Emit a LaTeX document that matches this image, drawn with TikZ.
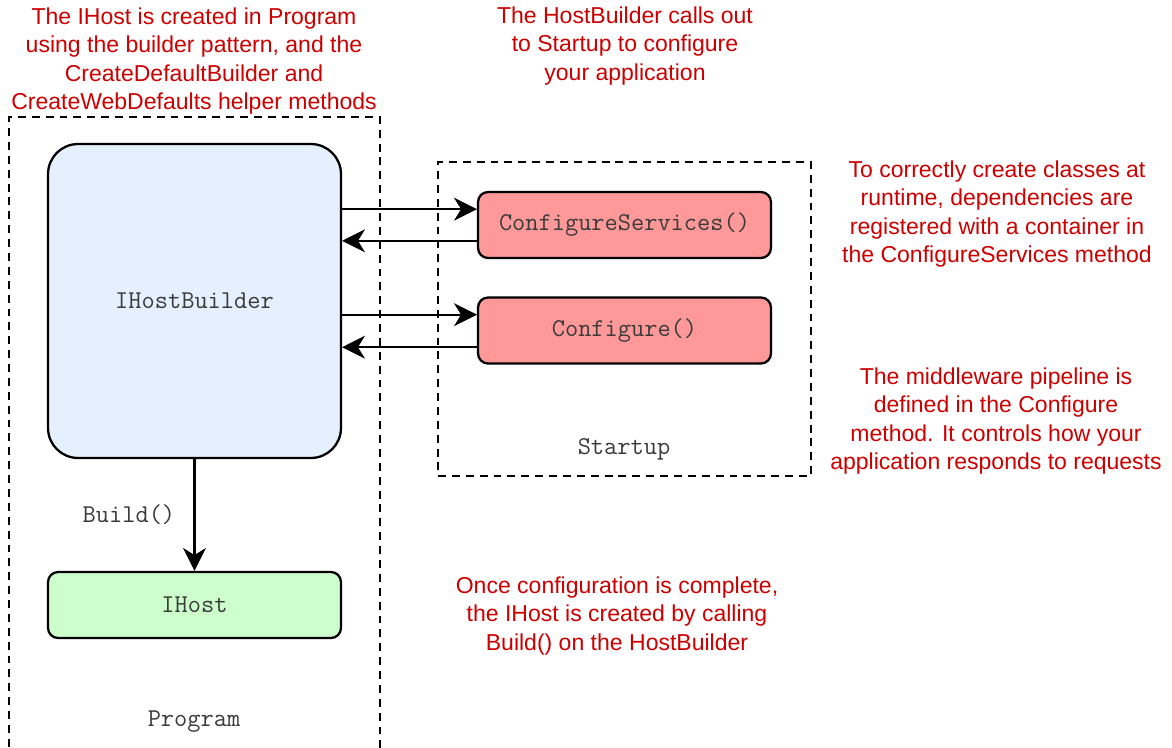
\documentclass[tikz,border=0pt]{standalone}
\usepackage{fontspec}
\setmainfont{Liberation Sans}
\usetikzlibrary{arrows.meta,positioning}
\definecolor{note}{HTML}{CC0000}
\definecolor{builderbg}{HTML}{E4F0FD}
\definecolor{hostbg}{HTML}{CCFFCC}
\definecolor{startbg}{HTML}{FF9999}
\definecolor{codefg}{HTML}{3A3A3A}

\begin{document}
\begin{tikzpicture}[
  x=0.02cm,y=-0.02cm,
  line width=1.3pt,
  flow/.style={-{Stealth[length=13pt,width=13pt,inset=4pt]},line width=1.3pt},
  frame/.style={draw,dashed,dash pattern=on 4.5pt off 3.4pt,line width=1.3pt},
  codebox/.style={draw,rounded corners=0.2cm,minimum width=5.86cm,
    minimum height=1.32cm,font=\fontsize{14.6}{16}\ttfamily,text=codefg},
  caption/.style={font=\fontsize{14.6}{16}\ttfamily,text=codefg},
  remark/.style={align=center,text=note,font=\fontsize{13.1}{16}\selectfont,
    inner sep=0pt}
]
\useasboundingbox (0,0) rectangle (1172,747);
\clip (0,0) rectangle (1172,747);

% containers
\node[frame,minimum width=7.42cm,minimum height=13.26cm] (program) at (194.5,448.5) {};
\node[frame,minimum width=7.46cm,minimum height=6.28cm] (startup) at (624.5,319) {};
\node[caption] (programlbl) at (194,722) {Program};
\node[caption] (startuplbl) at (624,449) {Startup};

% boxes
\node[codebox,fill=builderbg,rounded corners=0.6cm,minimum height=6.28cm]
  (builder) at (194.5,301) {IHostBuilder};
\node[codebox,fill=hostbg] (host) at (194.5,605) {IHost};
\node[codebox,fill=startbg] (services) at (624.5,225) {ConfigureServices()};
\node[codebox,fill=startbg] (configure) at (624.5,330.5) {Configure()};

% calls into Startup and back
\draw[flow] ([yshift=9pt]services.west -| builder.east) -- ([yshift=9pt]services.west);
\draw[flow] ([yshift=-9pt]services.west) -- ([yshift=-9pt]services.west -| builder.east);
\draw[flow] ([yshift=9pt]configure.west -| builder.east) -- ([yshift=9pt]configure.west);
\draw[flow] ([yshift=-9.5pt]configure.west) -- ([yshift=-9.5pt]configure.west -| builder.east);
\draw[flow] (builder) -- node[caption,left=7pt] {Build()} (host);

% notes
\node[remark] (notebuild) at (194,61) {The IHost is created in Program\\using the builder pattern, and the\\CreateDefaultBuilder and\\CreateWebDefaults helper methods};
\node[remark] (notehost) at (625,46) {The HostBuilder calls out\\to Startup to configure\\your application};
\node[remark] (noteservices) at (997,214) {To correctly create classes at\\runtime, dependencies are\\registered with a container in\\the ConfigureServices method};
\node[remark] (noteconfigure) at (996,421) {The middleware pipeline is\\defined in the Configure\\method. It controls how your\\application responds to requests};
\node[remark] (notecomplete) at (617,616) {Once configuration is complete,\\the IHost is created by calling\\Build() on the HostBuilder};
\end{tikzpicture}
\end{document}
